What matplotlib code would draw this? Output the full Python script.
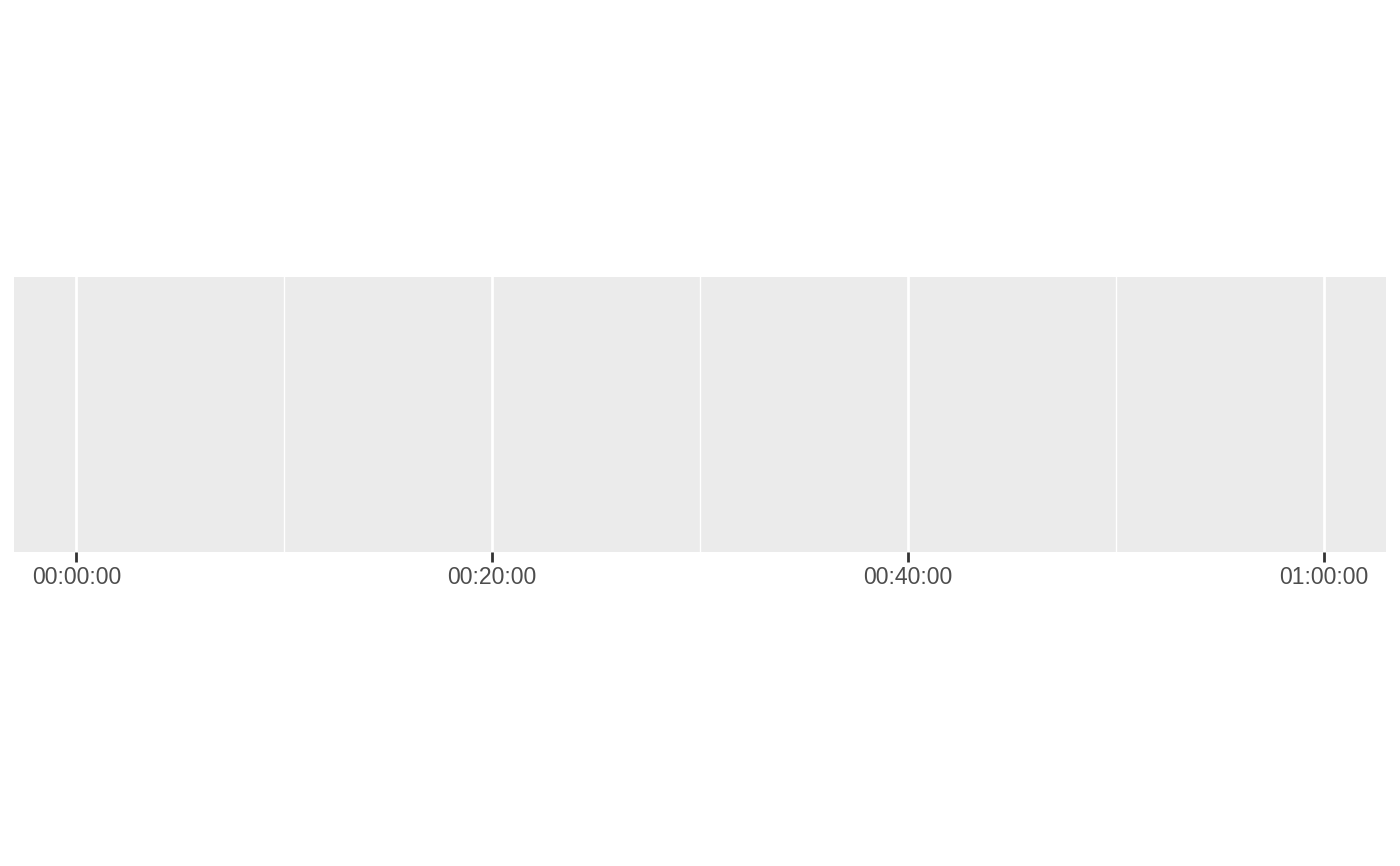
"""Empty ggplot-style time axis panel spanning one hour."""

import matplotlib

matplotlib.use("Agg")
import matplotlib.pyplot as plt  # noqa: E402
from matplotlib.ticker import FixedLocator, FuncFormatter  # noqa: E402

# Data range in seconds and the axis breaks.
time_range = [0, 3600]
major_breaks = [0, 1200, 2400, 3600]
minor_breaks = [600, 1800, 3000]


def hms(sec, _pos=None):
    sec = int(round(sec))
    return f"{sec // 3600:02d}:{(sec % 3600) // 60:02d}:{sec % 60:02d}"


plt.rcParams["font.family"] = ["Liberation Sans", "DejaVu Sans"]

fig = plt.figure(figsize=(14, 8.66), dpi=100)
ax = fig.add_axes([0.01, 0.3626, 0.98, 0.3176])
ax.set_facecolor("#EBEBEB")

span = time_range[1] - time_range[0]
ax.set_xlim(time_range[0] - 0.05 * span, time_range[1] + 0.05 * span)
ax.set_ylim(0, 1)

ax.xaxis.set_major_locator(FixedLocator(major_breaks))
ax.xaxis.set_minor_locator(FixedLocator(minor_breaks))
ax.xaxis.set_major_formatter(FuncFormatter(hms))
ax.grid(which="major", axis="x", color="white", lw=2.0)
ax.grid(which="minor", axis="x", color="white", lw=1.0)
ax.set_axisbelow(True)

ax.tick_params(axis="x", which="major", length=7, width=2, color="#333333",
               labelcolor="#4D4D4D", labelsize=16.6, pad=3.2)
ax.tick_params(axis="x", which="minor", length=0)
ax.set_yticks([])
for s in ax.spines.values():
    s.set_visible(False)

fig.savefig("out.png", dpi=100)
